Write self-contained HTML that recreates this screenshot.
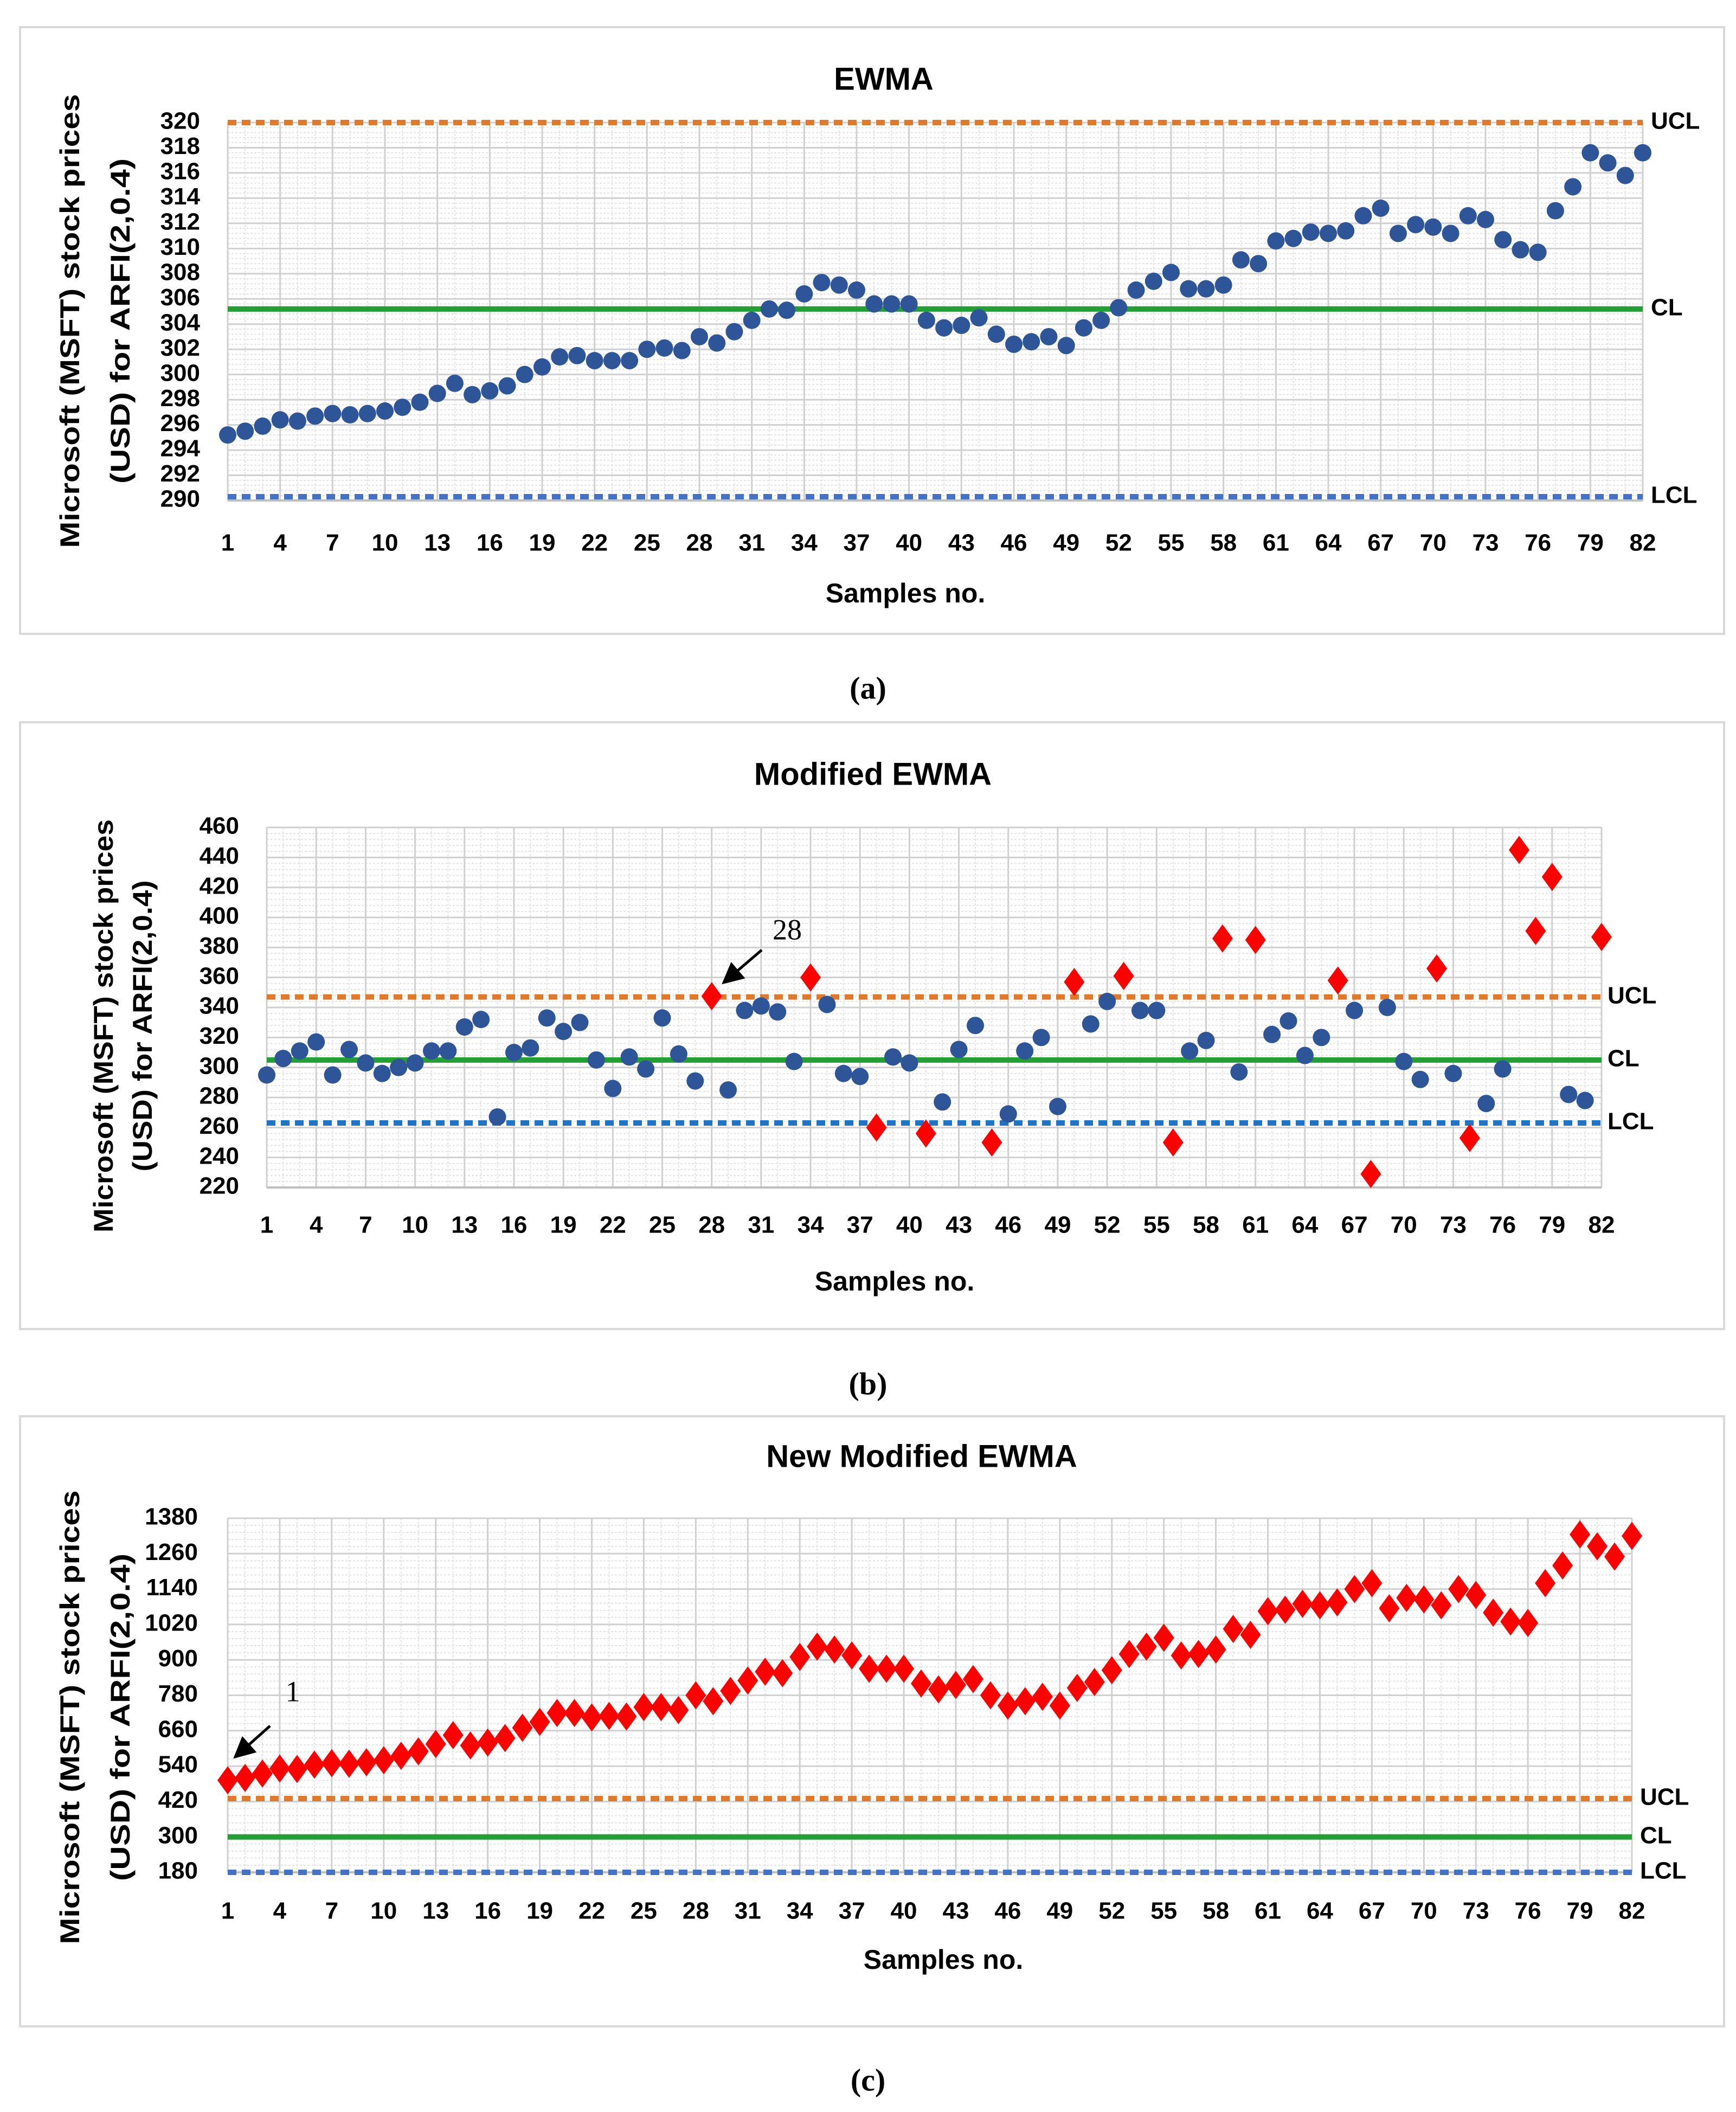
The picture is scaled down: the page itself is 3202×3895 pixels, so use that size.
<!DOCTYPE html>
<html><head><meta charset="utf-8"><style>
html,body{margin:0;padding:0;background:#fff}
svg{display:block}
</style></head><body>
<svg id="fig" width="3202" height="3895" viewBox="0 0 3202 3895" xmlns="http://www.w3.org/2000/svg" font-family="Liberation Sans, sans-serif"></svg>
<script>
// ---- data ----
const sampleNos = Array.from({length:82},(_,i)=>i+1);
const ewmaValues = [295.2,295.5,295.9,296.4,296.3,296.7,296.9,296.8,296.9,297.1,297.4,297.8,298.5,299.3,298.4,298.7,299.1,300.0,300.6,301.4,301.5,301.1,301.1,301.1,302.0,302.1,301.9,303.0,302.5,303.4,304.3,305.2,305.1,306.4,307.3,307.1,306.7,305.6,305.6,305.6,304.3,303.7,303.9,304.5,303.2,302.4,302.6,303.0,302.3,303.7,304.3,305.3,306.7,307.4,308.1,306.8,306.8,307.1,309.1,308.8,310.6,310.8,311.3,311.2,311.4,312.6,313.2,311.2,311.9,311.7,311.2,312.6,312.3,310.7,309.9,309.7,313.0,314.9,317.6,316.8,315.8,317.6];
const ewmaLimits = [320, 305.2, 290.3]; // UCL, CL, LCL
const ewmaTicks = [290,292,294,296,298,300,302,304,306,308,310,312,314,316,318,320];

const modValues = [295,306,311,317,295,312,303,296,300,303,311,311,327,332,267,310,313,333,324,330,305,286,307,299,333,309,291,347.5,285,338,341,337,304,360,342,296,294,260,307,303,256,277,312,328,250,269,311,320,274,357,329,344,361,338,338,250,311,318,386,297,385,322,331,308,320,358,338,229,340,304,292,366,296,253,276,299,445,391,427,282,278,387];
const modLimits = [347, 305, 263];
const modTicks = [220,240,260,280,300,320,340,360,380,400,420,440,460];

const newValues = [492,500,515,532,530,545,550,548,553,560,575,590,615,645,610,620,635,670,690,720,720,705,710,708,740,740,730,780,760,795,830,860,855,910,945,935,915,870,870,870,820,800,815,835,780,745,760,775,745,805,825,865,920,945,975,915,920,935,1005,985,1065,1070,1090,1085,1095,1140,1160,1075,1110,1105,1085,1140,1120,1060,1030,1025,1160,1220,1325,1285,1250,1320];
const newLimits = [430, 300, 180];
const newTicks = [180,300,420,540,660,780,900,1020,1140,1260,1380];

const xTickLabels = [1,4,7,10,13,16,19,22,25,28,31,34,37,40,43,46,49,52,55,58,61,64,67,70,73,76,79,82];

// ---- drawing ----
const NS="http://www.w3.org/2000/svg";
const svg=document.getElementById('fig');
function mk(tag,attrs,parent){const e=document.createElementNS(NS,tag);for(const k in attrs)e.setAttribute(k,attrs[k]);(parent||svg).appendChild(e);return e;}
function txt(str,attrs,parent){const e=mk('text',attrs,parent);e.textContent=str;return e;}

const defs=mk('defs',{});
const mkr=mk('marker',{id:'arrowhead',markerWidth:'8',markerHeight:'8',refX:'7',refY:'4',orient:'auto',markerUnits:'strokeWidth'},defs);
mk('path',{d:'M0,0 L8,4 L0,8 Z',fill:'#000'},mkr);

function drawPanel(cfg){
  const g=mk('g',{});
  
  
  const fr=mk('rect',{x:cfg.frame[0],y:cfg.frame[1],width:cfg.frame[2],height:cfg.frame[3],fill:'#fff',stroke:'#d9d9d9','stroke-width':4},g);
  
  
  const n=cfg.values.length;
  const xs=i=>cfg.L+(i)*(cfg.R-cfg.L)/(n-1);
  const ys=v=>cfg.B-(v-cfg.ymin)/(cfg.ymax-cfg.ymin)*(cfg.B-cfg.T);
  const gg=mk('g',{},g);
  
  
  const step=cfg.ticks[1]-cfg.ticks[0];
  for(let k=0;k<cfg.ticks.length-1;k++){
    for(let m=1;m<5;m++){const y=ys(cfg.ticks[k]+step*m/5);
      mk('line',{x1:cfg.L,x2:cfg.R,y1:y,y2:y,stroke:'#e3e3e3','stroke-width':2,'stroke-dasharray':'4 3'},gg);}
  }
  for(let i=0;i<n;i++){ if(i%3===0) continue; const x=xs(i);
    mk('line',{x1:x,x2:x,y1:cfg.T,y2:cfg.B,stroke:'#e3e3e3','stroke-width':2,'stroke-dasharray':'4 3'},gg);}
  for(let i=0;i<n;i+=3){const x=xs(i);mk('line',{x1:x,x2:x,y1:cfg.T,y2:cfg.B,stroke:'#d0d0d0','stroke-width':3},gg);}
  mk('line',{x1:cfg.R,x2:cfg.R,y1:cfg.T,y2:cfg.B,stroke:'#d0d0d0','stroke-width':3},gg);
  cfg.ticks.forEach(t=>{const y=ys(t);mk('line',{x1:cfg.L,x2:cfg.R,y1:y,y2:y,stroke:'#d0d0d0','stroke-width':3},gg);
    const tl=txt(String(t),{x:cfg.tickR,y:y,'text-anchor':'end','dominant-baseline':'middle','font-size':44,'font-weight':'bold',fill:'#000'},g);
    
    });
  mk('line',{x1:cfg.L,x2:cfg.R,y1:cfg.B,y2:cfg.B,stroke:'#bfbfbf','stroke-width':4},gg);
  xTickLabels.forEach(t=>{const x=xs(t-1);
    const tl=txt(String(t),{x:x,y:cfg.xlabY,'text-anchor':'middle','dominant-baseline':'middle','font-size':44,'font-weight':'bold'},g);
    
    });
  const lc=[['ucl-line','UCL',cfg.uclColor,'16 10',10],['cl-line','CL','#22a033',null,10],['lcl-line','LCL',cfg.lclColor,'16 10',10]];
  lc.forEach((c,k)=>{const y=ys(cfg.limits[k]);
    const a={x1:cfg.L,x2:cfg.R,y1:y,y2:y,stroke:c[2],'stroke-width':c[4]};if(c[3])a['stroke-dasharray']=c[3];
    const ln=mk('line',a,g);
    
    
    const lt=txt(c[1],{x:cfg.limX,y:y,'dominant-baseline':'middle','font-size':44,'font-weight':'bold'},g);
    
    });
  cfg.values.forEach((v,i)=>{const x=xs(i),y=ys(v);
    const out = cfg.allRed || v>=cfg.limits[0] || v<=cfg.limits[2];
    let p;
    if(out){p=mk('path',{d:`M${x},${y-26} L${x+19},${y} L${x},${y+26} L${x-19},${y} Z`,fill:'#ff0000'},g);}
    else{p=mk('circle',{cx:x,cy:y,r:16,fill:'#2e5597'},g);}
    
    });
  const tt=txt(cfg.title,{x:cfg.titleX,y:cfg.titleY,'text-anchor':'middle','dominant-baseline':'middle','font-size':58,'font-weight':'bold'},g);
  
  
  const xt=txt('Samples no.',{x:cfg.titleX+40,y:cfg.xtY,'text-anchor':'middle','dominant-baseline':'middle','font-size':50,'font-weight':'bold'},g);
  
  
  const yt=mk('g',{transform:`translate(0,${cfg.ytCY}) rotate(-90)`},g);
  
  
  txt('Microsoft (MSFT) stock prices',{x:0,y:cfg.ytX[0],'text-anchor':'middle','dominant-baseline':'middle','font-size':50,'font-weight':'bold',textLength:cfg.ytLen[0],lengthAdjust:'spacingAndGlyphs'},yt);
  txt('(USD)  for ARFI(2,0.4)',{x:0,y:cfg.ytX[1],'text-anchor':'middle','dominant-baseline':'middle','font-size':50,'font-weight':'bold',textLength:cfg.ytLen[1],lengthAdjust:'spacingAndGlyphs'},yt);
  const cp=txt(cfg.caption,{x:1601,y:cfg.capY,'text-anchor':'middle','dominant-baseline':'middle','font-size':58,'font-weight':'bold',style:'font-family:"Liberation Serif",serif'},g);
  
  
  if(cfg.ann){
    const ar=mk('line',{x1:cfg.ann.x1,y1:cfg.ann.y1,x2:cfg.ann.x2,y2:cfg.ann.y2,stroke:'#000','stroke-width':5,'marker-end':'url(#arrowhead)'},g);
    
    
    const at=txt(cfg.ann.t,{x:cfg.ann.tx,y:cfg.ann.ty,'text-anchor':'middle','dominant-baseline':'middle','font-size':54,style:'font-family:"Liberation Serif",serif'},g);
    
    
  }
}

drawPanel({name:'ewma-chart',frame:[37,50,3143,1119],L:420,R:3030,T:226,B:923,ymin:290,ymax:320,ticks:ewmaTicks,values:ewmaValues,limits:ewmaLimits,
  uclColor:'#e07a2a',lclColor:'#4472c4',tickR:369,xlabY:1004,limX:3045,title:'EWMA',titleX:1630,titleY:150,xtY:1098,ytCY:592,ytX:[133,226],ytLen:[837,600],caption:'(a)',capY:1275});
drawPanel({name:'modified-ewma-chart',frame:[37,1332,3143,1119],L:492,R:2954,T:1526,B:2190,ymin:220,ymax:460,ticks:modTicks,values:modValues,limits:modLimits,
  uclColor:'#e07a2a',lclColor:'#1f74c8',tickR:441,xlabY:2262,limX:2965,title:'Modified EWMA',titleX:1610,titleY:1432,xtY:2367,ytCY:1892,ytX:[195,267],ytLen:[762,537],caption:'(b)',capY:2558,
  ann:{x1:1405,y1:1752,x2:1335,y2:1812,t:'28',tx:1452,ty:1720}});
drawPanel({name:'new-modified-ewma-chart',frame:[37,2612,3143,1125],L:420,R:3010,T:2800,B:3453,ymin:180,ymax:1380,ticks:newTicks,values:newValues,limits:newLimits,allRed:true,
  uclColor:'#e07a2a',lclColor:'#4472c4',tickR:365,xlabY:3527,limX:3025,title:'New Modified EWMA',titleX:1700,titleY:2690,xtY:3618,ytCY:3167,ytX:[133,226],ytLen:[837,604],caption:'(c)',capY:3842,
  ann:{x1:498,y1:3183,x2:434,y2:3240,t:'1',tx:540,ty:3125}});
</script>
</body></html>
